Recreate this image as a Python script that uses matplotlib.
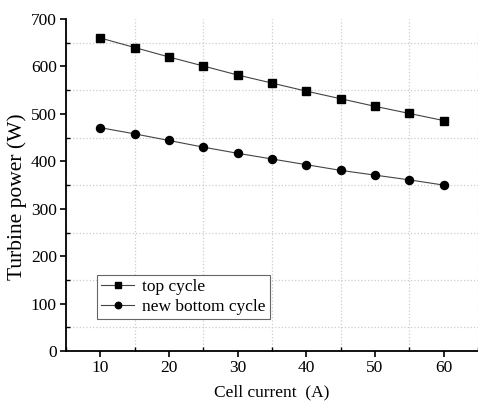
import numpy as np
import matplotlib.pyplot as plt
from matplotlib.ticker import MultipleLocator

current = [10, 15, 20, 25, 30, 35, 40, 45, 50, 55, 60]
top_cycle = [660, 640, 620, 601, 582, 565, 548, 532, 516, 501, 486]
bottom_cycle = [471, 458, 444, 430, 417, 405, 393, 381, 371, 361, 350]

plt.rcParams['font.family'] = ['Liberation Serif', 'DejaVu Serif']
plt.rcParams['font.size'] = 12.5

fig = plt.figure(figsize=(4.78, 4.05), dpi=100)
ax = fig.add_axes([0.138, 0.133, 0.862, 0.82])

ax.plot(current, top_cycle, color='#444444', lw=0.8, marker='s', ms=5.2,
        mfc='black', mec='black', label='top cycle')
ax.plot(current, bottom_cycle, color='#444444', lw=0.8, marker='o', ms=5.8,
        mfc='black', mec='black', label='new bottom cycle')

ax.set_xlim(5, 65)
ax.set_ylim(0, 700)
ax.xaxis.set_major_locator(MultipleLocator(10))
ax.xaxis.set_minor_locator(MultipleLocator(5))
ax.yaxis.set_major_locator(MultipleLocator(100))
ax.yaxis.set_minor_locator(MultipleLocator(50))

ax.grid(which='minor', color='#cccccc', linestyle=':', linewidth=0.9)
ax.grid(which='major', visible=False)

for s in ['top', 'right']:
    ax.spines[s].set_visible(False)
for s in ['left', 'bottom']:
    ax.spines[s].set_linewidth(1.3)

ax.tick_params(which='major', direction='out', length=4.5, width=1.2, pad=2)
ax.tick_params(which='minor', direction='in', length=3, width=1.0)

ax.set_xlabel('Cell current  (A)', fontsize=12.5, labelpad=6)
ax.set_ylabel('Turbine power (W)', fontsize=15.5)
ax.yaxis.set_label_coords(-0.095, 0.464)

leg = ax.legend(loc='lower left', bbox_to_anchor=(0.075, 0.096), fancybox=False,
                edgecolor='#666666', framealpha=1, borderpad=0.25, borderaxespad=0,
                handlelength=1.9, handletextpad=0.45, labelspacing=0.2,
                markerscale=0.8, fontsize=12.5)
leg.get_frame().set_linewidth(0.8)

fig.savefig('out.png', dpi=100)
